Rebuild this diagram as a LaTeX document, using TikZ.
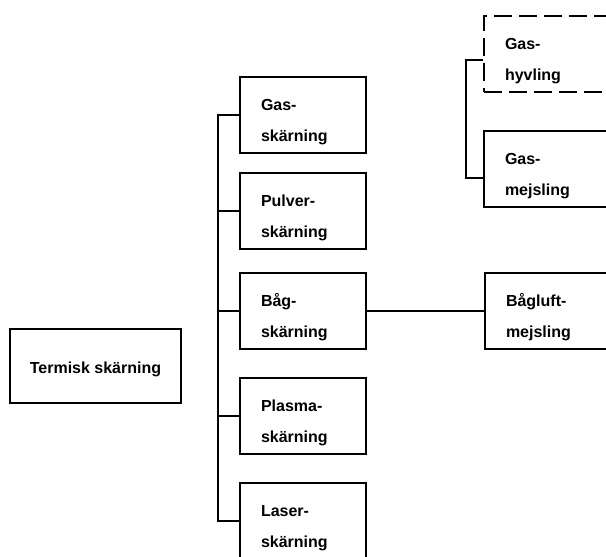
\documentclass[tikz,border=0pt]{standalone}
\usepackage{fontspec}
\setmainfont{Liberation Sans}
\usetikzlibrary{positioning}

% rutor och linjer
\tikzset{
  ruta/.style={draw, line width=1.6pt, inner xsep=21pt, inner ysep=0pt,
    text width=84pt, align=left, font=\bfseries\fontsize{16}{31}\selectfont},
  streckad/.style={ruta, dash pattern=on 18pt off 7pt},
  linje/.style={line width=1.6pt}
}
% text i tva rader
\newcommand\tvarad[2]{\rule{0pt}{33pt}#1\\#2\rule[-12pt]{0pt}{12pt}}

\begin{document}
\begin{tikzpicture}[x=1pt,y=-1pt]
\useasboundingbox (0,0) rectangle (606,557);

%huvudruta
\node[draw, line width=1.6pt, minimum width=171pt, minimum height=74pt, inner sep=0pt,
  text height=14pt, text depth=0pt, font=\bfseries\fontsize{16}{20}\selectfont]
  (termisk) at (95.5,366) {Termisk skärning};

%skarningsmetoder
\node[ruta] (gas) at (303,115) {\tvarad{Gas-}{skärning}};
\node[ruta] (pulver) at (303,211) {\tvarad{Pulver-}{skärning}};
\node[ruta] (bag) at (303,311) {\tvarad{Båg-}{skärning}};
\node[ruta] (plasma) at (303,416) {\tvarad{Plasma-}{skärning}};
\node[ruta] (laser) at (303,521) {\tvarad{Laser-}{skärning}};

%hoger kolumn
\node[streckad] (hyv) at (547,54) {\tvarad{Gas-}{hyvling}};
\node[ruta] (mejs) at (547,169) {\tvarad{Gas-}{mejsling}};
\node[ruta] (bagluft) at (548,311) {\tvarad{Bågluft-}{mejsling}};

%stam med grenar
\draw[linje] (gas.west) -- ++(-21,0) |- (laser.west);
\foreach \n in {pulver,bag,plasma}
	\draw[linje] (\n.west) -- ++(-21,0);
\draw[linje] (bag.east) -- (bagluft.west);
\draw[linje] ([yshift=-6pt]hyv.west) -- ++(-17,0) |- ([yshift=-9pt]mejs.west);
\end{tikzpicture}
\end{document}
